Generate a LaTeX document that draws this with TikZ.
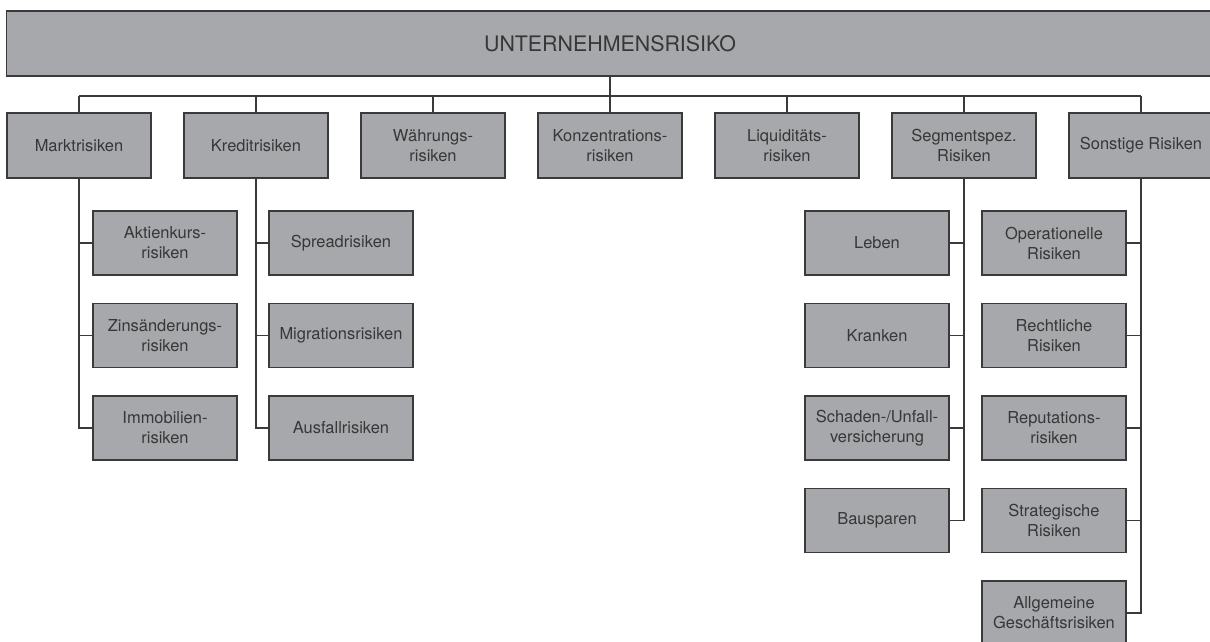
\documentclass[tikz,border=0pt]{standalone}
\usepackage{fontspec}
\setmainfont{TeX Gyre Heros}
\usetikzlibrary{positioning}
\definecolor{boxFill}{RGB}{167, 168, 171}
\definecolor{boxLine}{RGB}{58, 58, 58}
\definecolor{boxText}{RGB}{55, 55, 55}
\tikzset{
  riskbox/.style={draw=boxLine, fill=boxFill, line width=0.85pt, text=boxText,
    minimum width=3.6cm, minimum height=1.6cm, inner sep=0pt, align=center,
    font=\fontsize{11.7}{14.2}\selectfont},
  link/.style={draw=boxLine, line width=0.8pt}
}
\begin{document}
\begin{tikzpicture}[x=0.025cm, y=-0.025cm]
    \useasboundingbox (0,0) rectangle (1210,642);

    % Root box
    \node[riskbox, minimum width=30.15cm, minimum height=1.625cm,
          font=\fontsize{15.2}{18}\selectfont] (root) at (610,43.5) {UNTERNEHMENSRISIKO};

    % Main risk categories
    \foreach \n/\t [count=\i from 0] in {markt/Marktrisiken, kredit/Kreditrisiken,
        waehrung/{Währungs-\\risiken}, konz/{Konzentrations-\\risiken},
        liqui/{Liquiditäts-\\risiken}, segment/{Segmentspez.\\Risiken},
        sonstige/Sonstige Risiken} {
        \node[riskbox, minimum height=1.625cm] (\n) at ({79+177*\i},145.5) {\t};
    }

    % Bus line
    \coordinate (bus) at (79,96);
    \draw[link] (markt.north |- bus) -- (sonstige.north |- bus);
    \draw[link] (root.south) -- (root.south |- bus);
    \foreach \n in {markt, kredit, waehrung, konz, liqui, segment, sonstige} {
        \draw[link] (\n.north) -- (\n.north |- bus);
    }

    % Market risks
    \foreach \n/\t [count=\k from 0] in {aktien/{Aktienkurs-\\risiken},
        zins/{Zinsänderungs-\\risiken}, immo/{Immobilien-\\risiken}} {
        \node[riskbox] (\n) at (165,{243+92.5*\k}) {\t};
        \draw[link] (\n.west) -| (markt.south);
    }

    % Credit risks
    \foreach \n/\t [count=\k from 0] in {spread/Spreadrisiken,
        migration/Migrationsrisiken, ausfall/Ausfallrisiken} {
        \node[riskbox] (\n) at (341,{243+92.5*\k}) {\t};
        \draw[link] (\n.west) -| (kredit.south);
    }

    % Segment specific risks
    \foreach \n/\t [count=\k from 0] in {leben/Leben, kranken/Kranken,
        schaden/{Schaden-/Unfall-\\versicherung}, bauspar/Bausparen} {
        \node[riskbox] (\n) at (877,{243+92.5*\k}) {\t};
        \draw[link] (\n.east) -| (segment.south);
    }

    % Other risks
    \foreach \n/\t [count=\k from 0] in {oper/{Operationelle\\Risiken},
        recht/{Rechtliche\\Risiken}, repu/{Reputations-\\risiken},
        strat/{Strategische\\Risiken}, allg/{Allgemeine\\Geschäftsrisiken}} {
        \node[riskbox] (\n) at (1054,{243+92.5*\k}) {\t};
        \draw[link] (\n.east) -| (sonstige.south);
    }
\end{tikzpicture}
\end{document}
